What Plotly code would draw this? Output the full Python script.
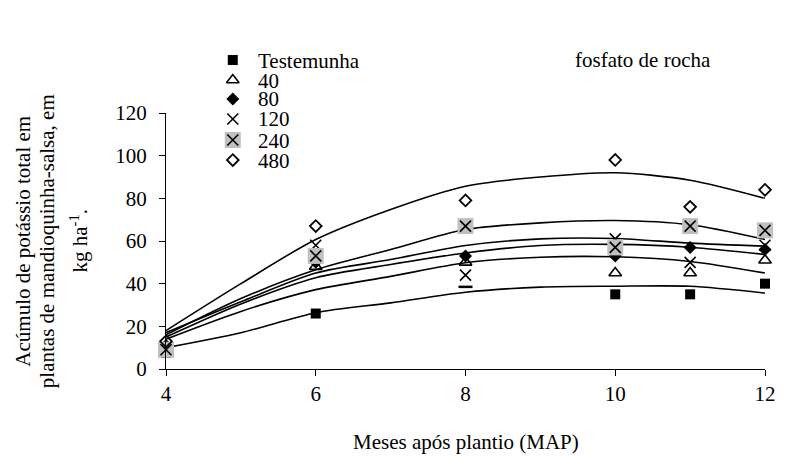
import plotly.graph_objects as go

# ---------------- data ----------------
months = [4, 6, 8, 10, 11, 12]
testemunha = [7.5, 26, None, 35, 35, 40]
dose40 = [10, 48, 50, 45, 45, 51]
dose80 = [11, 50, 53, 53, 57, 56]
dose120 = [10, 58, 44, 61, 50, 58]
dose240 = [9, 53, 67, 57, 67, 65]
dose480 = [13, 67, 79, 98, 76, 84]
# partly hidden marker (only a dash visible)
hidden_x = [8]
hidden_y = [38.5]

curve_months = [4, 5, 6, 7, 8, 9, 10, 11, 12]
fit_testemunha = [10, 17, 26.4, 31, 36, 38.4, 38.8, 38.8, 35.6]
fit40 = [14, 27, 37.2, 43.4, 49.8, 52.4, 52.6, 50.4, 45]
fit80 = [15, 30.5, 42.8, 49, 54.4, 57.9, 58.4, 57.1, 53.7]
fit120 = [17, 31.5, 45, 51.3, 57.9, 61, 61.2, 59, 57.6]
fit240 = [16, 33, 46.5, 56, 65.4, 68.5, 69.6, 67.6, 60.7]
fit480 = [18, 40, 60.7, 74.8, 85.7, 90, 92, 88.5, 80]

legend_labels = ["Testemunha", "40", "80", "120", "240", "480"]
x_ticks = [4, 6, 8, 10, 12]
y_ticks = [0, 20, 40, 60, 80, 100, 120]
y_title_lines = ["Acúmulo de potássio total em",
                 "plantas de mandioquinha-salsa, em",
                 "kg ha<sup>-1</sup>."]
x_title = "Meses após plantio (MAP)"
panel_label = "fosfato de rocha"

# ---------------- style ----------------
FONT = "Liberation Serif"
FS = 21
BLACK = "black"
GREY = "#c0c0c0"

fig = go.Figure()

# fitted curves
for ys in [fit_testemunha, fit40, fit80, fit120, fit240, fit480]:
    fig.add_trace(go.Scatter(x=curve_months, y=ys, mode="lines",
                             line=dict(color=BLACK, width=1.6, shape="spline", smoothing=0.8),
                             showlegend=False, hoverinfo="skip"))

styles = {
    "Testemunha": [dict(symbol="square", size=10, color=BLACK, line=dict(width=0))],
    "40": [dict(symbol="triangle-up-open", size=11, color=BLACK, line=dict(width=1.6, color=BLACK))],
    "80": [dict(symbol="diamond", size=10, color=BLACK, line=dict(width=0))],
    "120": [dict(symbol="x-thin-open", size=11, color=BLACK, line=dict(width=1.6, color=BLACK))],
    "240": [dict(symbol="square", size=16, color=GREY, line=dict(width=0)),
            dict(symbol="x-thin-open", size=11, color=BLACK, line=dict(width=1.6, color=BLACK))],
    "480": [dict(symbol="diamond-open", size=9, color=BLACK, line=dict(width=1.8, color=BLACK))],
}
series = {"Testemunha": testemunha, "40": dose40, "80": dose80,
          "120": dose120, "240": dose240, "480": dose480}

for name in legend_labels:
    for mk in styles[name]:
        fig.add_trace(go.Scatter(x=months, y=series[name], mode="markers",
                                 marker=mk, cliponaxis=False,
                                 showlegend=False, hoverinfo="skip"))

fig.add_trace(go.Scatter(x=hidden_x, y=hidden_y, mode="markers", cliponaxis=False,
                         marker=dict(symbol="line-ew-open", size=10, color=BLACK,
                                     line=dict(width=2.5, color=BLACK)),
                         showlegend=False, hoverinfo="skip"))

# custom legend on a full-height overlay axis (paper-like coordinates)
leg_x = 0.1115
leg_rows = [0.9115, 0.8525, 0.7965, 0.7375, 0.6755, 0.6165]
for name, ly in zip(legend_labels, leg_rows):
    for mk in styles[name]:
        fig.add_trace(go.Scatter(x=[leg_x], y=[ly], mode="markers", marker=mk,
                                 xaxis="x2", yaxis="y2", cliponaxis=False,
                                 showlegend=False, hoverinfo="skip"))
    fig.add_annotation(x=0.152, y=ly, xref="paper", yref="paper", text=name,
                       showarrow=False, xanchor="left", yanchor="middle",
                       height=19, borderpad=0,
                       font=dict(family=FONT, size=FS, color=BLACK))

fig.add_annotation(x=0.797, y=0.9115, xref="paper", yref="paper", text=panel_label,
                   showarrow=False, xanchor="center", yanchor="middle",
                   font=dict(family=FONT, size=FS, color=BLACK))

for txt, px in zip(y_title_lines, [-0.2393, -0.1984, -0.1443]):
    fig.add_annotation(x=px, y=0.3776, xref="paper", yref="paper", textangle=-90,
                       text=txt, showarrow=False, xanchor="center", yanchor="middle",
                       font=dict(family=FONT, size=FS, color=BLACK))

fig.add_annotation(x=0.5, y=-0.215, xref="paper", yref="paper", text=x_title,
                   showarrow=False, xanchor="center", yanchor="middle",
                   font=dict(family=FONT, size=FS, color=BLACK))

fig.update_layout(
    width=788, height=457,
    margin=dict(l=166, r=12, t=30, b=88),
    paper_bgcolor="white", plot_bgcolor="rgba(0,0,0,0)",
    font=dict(family=FONT, size=FS, color=BLACK),
    showlegend=False,
    xaxis=dict(range=[4, 12], tickvals=x_ticks, showgrid=False, zeroline=False,
               domain=[0, 1], anchor="y",
               showline=True, linecolor=BLACK, linewidth=1.3,
               ticks="outside", ticklen=6, tickcolor=BLACK, tickwidth=1.3,
               tickfont=dict(family=FONT, size=FS, color=BLACK)),
    yaxis=dict(range=[0, 120], tickvals=y_ticks, showgrid=False, zeroline=False,
               domain=[0, 256 / 339], anchor="x",
               showline=True, linecolor=BLACK, linewidth=1.3,
               ticks="outside", ticklen=6, tickcolor=BLACK, tickwidth=1.3,
               ticklabelstandoff=8,
               tickfont=dict(family=FONT, size=FS, color=BLACK)),
    xaxis2=dict(range=[0, 1], domain=[0, 1], anchor="y2", visible=False),
    yaxis2=dict(range=[0, 1], domain=[0, 1], anchor="x2", visible=False),
)

fig.write_html("out.html")
